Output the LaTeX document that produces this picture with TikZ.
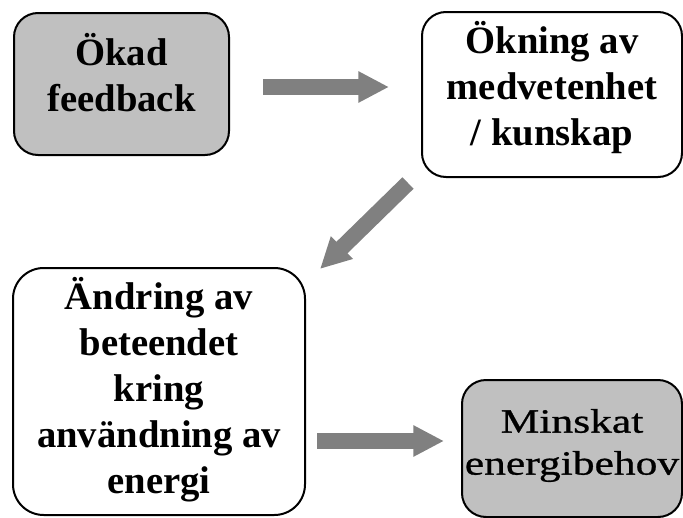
\documentclass[tikz,border=0pt]{standalone}
\usepackage{fontspec}
\setmainfont{Liberation Serif}
\newfontfamily\widefont[FakeStretch=1.28, FakeBold=0.8]{Liberation Serif}
\usepackage{xcolor}
\usepackage{tikz}
\usetikzlibrary{arrows.meta}

\definecolor{boxgray}{HTML}{C0C0C0}
\definecolor{arrowgray}{HTML}{808080}

% invisible depth on the last line, to lift the text a little
\newcommand{\lastdp}[1]{\rule[-#1]{0pt}{0pt}}

\tikzset{
    stepbox/.style={draw=black, line width=1.5pt, rounded corners=18pt, align=center,
        inner sep=0pt, font=\fontsize{29}{34.5}\selectfont\bfseries},
    bigarrow/.style={draw=arrowgray, line width=12pt,
        -{Triangle[width=22pt, length=23pt]}}
}

\begin{document}
\begin{tikzpicture}[x=0.75pt, y=-0.75pt]
        \useasboundingbox (0,0) rectangle (683,518);

        \node[stepbox, fill=boxgray, minimum width=161.25pt, minimum height=106.5pt]
            (feedback) at (121.5,84) {Ökad\\feedback\lastdp{17pt}};
        \node[stepbox, fill=white, minimum width=195pt, minimum height=123.75pt]
            (medvet) at (552,94.5) {Ökning av\\medvetenhet\\/ kunskap\lastdp{16.5pt}};
        \node[stepbox, fill=white, rounded corners=23pt, minimum width=219pt, minimum height=185.25pt]
            (andring) at (159,391.5) {Ändring av\\beteendet\\kring\\användning av\\energi\lastdp{9pt}};
        \node[stepbox, fill=boxgray, minimum width=165pt, minimum height=102.75pt,
            font=\fontsize{25.5}{31.5}\selectfont\widefont]
            (minskat) at (572,448.5) {Minskat\\energibehov\lastdp{10pt}};

        \draw[bigarrow] ([shift={(33,3)}]feedback.east) -- ([shift={(-32,-7.5)}]medvet.west);
        \draw[bigarrow] ([shift={(-13,5)}]medvet.south west) -- ([shift={(14,2)}]andring.north east); % diagonal
        \draw[bigarrow] ([shift={(11,49.5)}]andring.east) -- ([shift={(-17,-7.5)}]minskat.west);
    \end{tikzpicture}
\end{document}
